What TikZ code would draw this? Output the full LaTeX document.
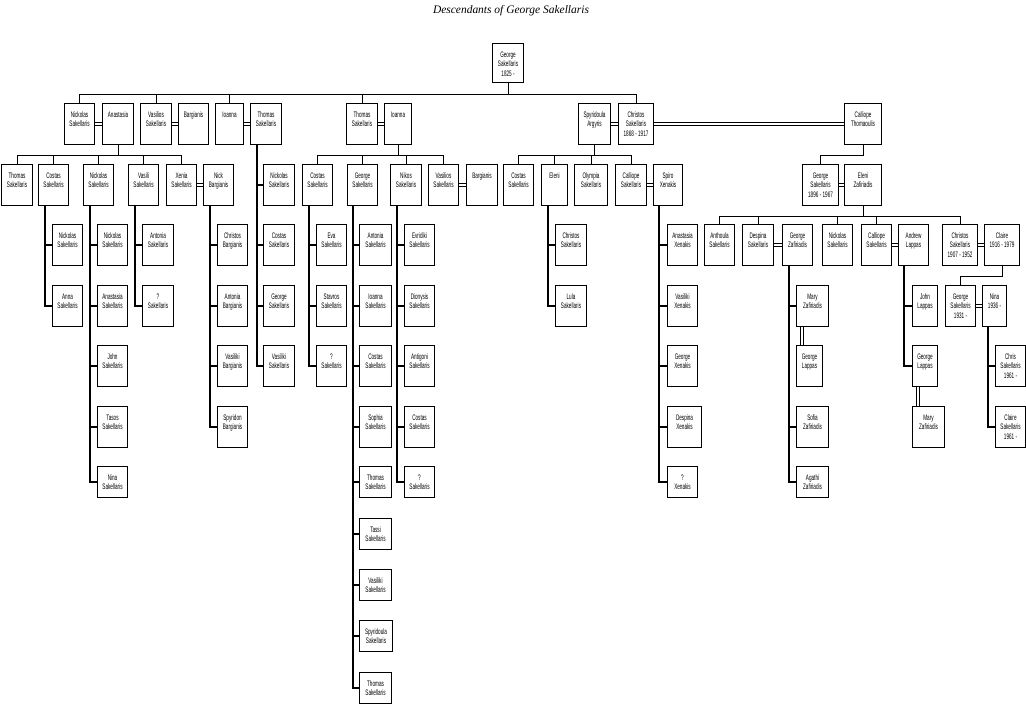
\documentclass[tikz,border=0pt]{standalone}
\usepackage{fontspec}
\setmainfont{Liberation Serif}
\newfontfamily\boxfont[FakeStretch=0.58]{Liberation Sans}
\newlength\pxu \setlength\pxu{0.75pt}
\newcommand\bt[3]{\parbox[c][#2\pxu][t]{#1\pxu}{\centering\fontsize{6}{7.125}\boxfont\rule{0pt}{13.5\pxu}#3\par}}
\pgfdeclarelayer{background}
\pgfsetlayers{background,main}
\tikzset{
  box/.style={draw, line width=.8pt, inner sep=0pt, anchor=north west},
  conn/.style={line width=.8pt},
  marr/.style={line width=.75pt, double, double distance=1.8pt},
}
\newcommand\pn[6]{\node[box] (#1) at (#2,#3) {\bt{#4}{#5}{#6}};}
\begin{document}
\begin{tikzpicture}[x=0.75pt,y=-0.75pt]
\useasboundingbox (0,0) rectangle (1026,712);
\node[font=\itshape\fontsize{8.6}{10}\selectfont, anchor=base] (title) at (511,14) {Descendants of George Sakellaris};
% root
\pn{root}{492}{43}{31}{39}{George\\Sakellaris\\1825 -}
% row 1
\pn{nick}{64}{103}{30}{41}{Nickolas\\Sakellaris}
\pn{anas}{102}{103}{31}{41}{Anastasia}
\pn{vasi}{140}{103}{31}{41}{Vasilios\\Sakellaris}
\pn{barg}{178}{103}{30}{41}{Bargianis}
\pn{ioan}{215}{103}{28}{41}{Ioanna}
\pn{thomA}{250}{103}{31}{41}{Thomas\\Sakellaris}
\pn{thomB}{346}{103}{31}{41}{Thomas\\Sakellaris}
\pn{ioanB}{384}{103}{27}{41}{Ioanna}
\pn{spyr}{578}{103}{32}{41}{Spyridoula\\Argyris}
\pn{chri}{618}{103}{35}{41}{Christos\\Sakellaris\\1868 - 1917}
\pn{call}{844}{103}{37}{41}{Calliope\\Thomaoulis}
% row 2
\pn{a1}{1}{164}{31}{41}{Thomas\\Sakellaris}
\pn{a2}{38}{164}{30}{41}{Costas\\Sakellaris}
\pn{a3}{83}{164}{30}{41}{Nickolas\\Sakellaris}
\pn{a4}{128}{164}{30}{41}{Vasili\\Sakellaris}
\pn{a5}{166}{164}{30}{41}{Xenia\\Sakellaris}
\pn{a5s}{203}{164}{30}{41}{Nick\\Bargianis}
\pn{b1}{302}{164}{30}{41}{Costas\\Sakellaris}
\pn{b2}{347}{164}{30}{41}{George\\Sakellaris}
\pn{b3}{390}{164}{31}{41}{Nikos\\Sakellaris}
\pn{b4}{428}{164}{30}{41}{Vasilios\\Sakellaris}
\pn{b4s}{466}{164}{31}{41}{Bargianis}
\pn{c1}{503}{164}{30}{41}{Costas\\Sakellaris}
\pn{c2}{541}{164}{26}{41}{Eleni}
\pn{c3}{574}{164}{33}{41}{Olympia\\Sakellaris}
\pn{c4}{615}{164}{31}{41}{Calliope\\Sakellaris}
\pn{c4s}{653}{164}{29}{41}{Spiro\\Xenakis}
\pn{geo}{802}{164}{36}{41}{George\\Sakellaris\\1896 - 1967}
\pn{geos}{844}{164}{37}{41}{Eleni\\Zafiriadis}
% Thomas A list
\pn{t1}{263}{164}{31}{41}{Nickolas\\Sakellaris}
\pn{t2}{263}{224}{31}{41}{Costas\\Sakellaris}
\pn{t3}{263}{285}{31}{41}{George\\Sakellaris}
\pn{t4}{263}{345}{31}{41}{Vasiliki\\Sakellaris}
% row 3 right
\pn{d1}{704}{224}{30}{41}{Anthoula\\Sakellaris}
\pn{d2}{742}{224}{31}{41}{Despina\\Sakellaris}
\pn{d2s}{782}{224}{30}{41}{George\\Zafiriadis}
\pn{d3}{822}{224}{30}{41}{Nickolas\\Sakellaris}
\pn{d4}{861}{224}{30}{41}{Calliope\\Sakellaris}
\pn{d4s}{898}{224}{30}{41}{Andrew\\Lappas}
\pn{d5}{942}{224}{35}{41}{Christos\\Sakellaris\\1907 - 1952}
\pn{d5s}{984}{224}{35}{41}{Claire\\1916 - 1979}
% lists
\pn{a21}{52}{224}{30}{41}{Nickolas\\Sakellaris}
\pn{a22}{52}{285}{30}{41}{Anna\\Sakellaris}
\pn{a31}{97}{224}{30}{41}{Nickolas\\Sakellaris}
\pn{a32}{97}{285}{30}{41}{Anastasia\\Sakellaris}
\pn{a33}{97}{345}{30}{41}{John\\Sakellaris}
\pn{a34}{97}{406}{30}{41}{Tasos\\Sakellaris}
\pn{a35}{97}{466}{30}{31}{Nina\\Sakellaris}
\pn{a41}{142}{224}{31}{41}{Antonia\\Sakellaris}
\pn{a42}{142}{285}{31}{41}{?\\Sakellaris}
\pn{a51}{217}{224}{30}{41}{Christos\\Bargianis}
\pn{a52}{217}{285}{30}{41}{Antonia\\Bargianis}
\pn{a53}{217}{345}{30}{41}{Vasiliki\\Bargianis}
\pn{a54}{217}{406}{30}{41}{Spyridon\\Bargianis}
\pn{b11}{316}{224}{30}{41}{Eva\\Sakellaris}
\pn{b12}{316}{285}{30}{41}{Stavros\\Sakellaris}
\pn{b13}{316}{345}{30}{41}{?\\Sakellaris}
\pn{b21}{359}{224}{32}{41}{Antonia\\Sakellaris}
\pn{b22}{359}{285}{32}{41}{Ioanna\\Sakellaris}
\pn{b23}{359}{345}{32}{41}{Costas\\Sakellaris}
\pn{b24}{359}{406}{32}{41}{Sophia\\Sakellaris}
\pn{b25}{359}{466}{32}{31}{Thomas\\Sakellaris}
\pn{b26}{359}{518}{32}{31}{Tassi\\Sakellaris}
\pn{b27}{359}{569}{32}{31}{Vasiliki\\Sakellaris}
\pn{b28}{359}{620}{33}{31}{Spyridoula\\Sakellaris}
\pn{b29}{359}{672}{32}{31}{Thomas\\Sakellaris}
\pn{b31}{404}{224}{30}{41}{Evridiki\\Sakellaris}
\pn{b32}{404}{285}{30}{41}{Dionysis\\Sakellaris}
\pn{b33}{404}{345}{30}{41}{Antigoni\\Sakellaris}
\pn{b34}{404}{406}{30}{41}{Costas\\Sakellaris}
\pn{b35}{404}{466}{30}{31}{?\\Sakellaris}
\pn{c21}{555}{224}{31}{41}{Christos\\Sakellaris}
\pn{c22}{555}{285}{31}{41}{Lula\\Sakellaris}
\pn{c41}{667}{224}{30}{41}{Anastasia\\Xenakis}
\pn{c42}{667}{285}{30}{41}{Vasiliki\\Xenakis}
\pn{c43}{667}{345}{30}{41}{George\\Xenakis}
\pn{c44}{667}{406}{34}{41}{Despina\\Xenakis}
\pn{c45}{667}{466}{30}{31}{?\\Xenakis}
\pn{e1}{796}{285}{32}{41}{Mary\\Zafiriadis}
\pn{e1s}{796}{345}{26}{41}{George\\Lappas}
\pn{e2}{796}{406}{32}{41}{Sofia\\Zafiriadis}
\pn{e3}{796}{466}{32}{31}{Agathi\\Zafiriadis}
\pn{f1}{912}{285}{25}{41}{John\\Lappas}
\pn{f2}{912}{345}{25}{41}{George\\Lappas}
\pn{f2s}{912}{406}{32}{41}{Mary\\Zafiriadis}
\pn{g1}{945}{285}{30}{41}{George\\Sakellaris\\1931 -}
\pn{g1s}{982}{285}{24}{41}{Nina\\1936 -}
\pn{g11}{995}{345}{30}{41}{Chris\\Sakellaris\\1961 -}
\pn{g12}{995}{406}{30}{41}{Claire\\Sakellaris\\1961 -}
\begin{pgfonlayer}{background}
% buses
\foreach \c in {nick,vasi,ioan,thomB,chri} \draw[conn] (root.south) -- ++(0,11) -| (\c.north);
\foreach \c in {a1,a2,a3,a4,a5} \draw[conn] (anas.south) -- ++(0,10) -| (\c.north);
\foreach \c in {b1,b2,b3,b4} \draw[conn] (ioanB.south) -- ++(0,10) -| (\c.north);
\foreach \c in {c1,c2,c3,c4} \draw[conn] (spyr.south) -- ++(0,10) -| (\c.north);
\draw[conn] (call.south) -- ++(0,10) -| (geo.north);
\foreach \c in {d1,d2,d3,d4,d5} \draw[conn] (geos.south) -- ++(0,10) -| (\c.north);
\draw[conn] (d5s.south) -- ++(0,10) -| (g1.north);
% marriages
\foreach \a/\b in {nick/anas,vasi/barg,ioan/thomA,thomB/ioanB,spyr/chri,chri/call,a5/a5s,b4/b4s,c4/c4s,geo/geos,d2/d2s,d4/d4s,d5/d5s,g1/g1s}
  \draw[marr] (\a.east) -- (\b.west);
\draw[marr] ([xshift=6\pxu]e1.south west) -- ([xshift=6\pxu]e1s.north west);
\draw[marr] ([xshift=6\pxu]f2.south west) -- ([xshift=6\pxu]f2s.north west);
% vertical lists
\foreach \c in {t1,t2,t3,t4} \draw[conn] ([xshift=7\pxu]thomA.south west) |- (\c.west);
\foreach \c in {a21,a22} \draw[conn] ([xshift=7\pxu]a2.south west) |- (\c.west);
\foreach \c in {a31,a32,a33,a34,a35} \draw[conn] ([xshift=7\pxu]a3.south west) |- (\c.west);
\foreach \c in {a41,a42} \draw[conn] ([xshift=7\pxu]a4.south west) |- (\c.west);
\foreach \c in {a51,a52,a53,a54} \draw[conn] ([xshift=7\pxu]a5s.south west) |- (\c.west);
\foreach \c in {b11,b12,b13} \draw[conn] ([xshift=7\pxu]b1.south west) |- (\c.west);
\foreach \c in {b21,b22,b23,b24,b25,b26,b27,b28,b29} \draw[conn] ([xshift=6\pxu]b2.south west) |- (\c.west);
\foreach \c in {b31,b32,b33,b34,b35} \draw[conn] ([xshift=7\pxu]b3.south west) |- (\c.west);
\foreach \c in {c21,c22} \draw[conn] ([xshift=7\pxu]c2.south west) |- (\c.west);
\foreach \c in {c41,c42,c43,c44,c45} \draw[conn] ([xshift=6\pxu]c4s.south west) |- (\c.west);
\foreach \c in {e1,e2,e3} \draw[conn] ([xshift=7\pxu]d2s.south west) |- (\c.west);
\foreach \c in {f1,f2} \draw[conn] ([xshift=6\pxu]d4s.south west) |- (\c.west);
\foreach \c in {g11,g12} \draw[conn] ([xshift=6\pxu]g1s.south west) |- (\c.west);
\end{pgfonlayer}
\end{tikzpicture}
\end{document}
